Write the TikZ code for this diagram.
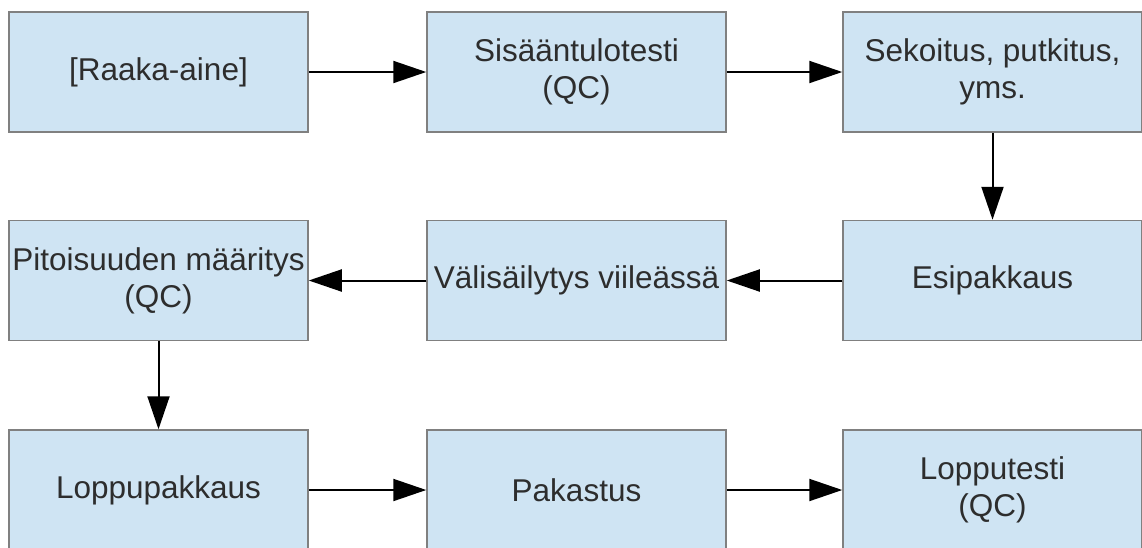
\documentclass[tikz,border=0pt]{standalone}
\usepackage{fontspec}
\setmainfont{Liberation Sans}
\usetikzlibrary{arrows.meta}
\definecolor{boxblue}{RGB}{207,228,243}
\definecolor{boxline}{RGB}{128,128,128}
\definecolor{txt}{RGB}{45,45,45}
\tikzset{
  stepbox/.style={rectangle, draw=boxline, line width=1.5pt, fill=boxblue,
    minimum width=299pt, minimum height=120pt, inner sep=0pt, align=center,
    text=txt, font=\fontsize{31.5pt}{37pt}\selectfont},
  flow/.style={line width=2pt, -{Triangle[length=33pt,width=22pt]}}
}
\begin{document}
\begin{tikzpicture}[x=1pt,y=-1pt]
\useasboundingbox (0,0) rectangle (1142,547);
\begin{scope}
\clip (0,0) rectangle (1142,547);
\node[stepbox] (a) at (158.5,72) {[Raaka-aine]};
\node[stepbox] (b) at (576.5,72) {Sisääntulotesti\\(QC)};
\node[stepbox] (c) at (992.5,72) {Sekoitus, putkitus,\\yms.};
\node[stepbox] (d) at (992.5,280.5) {Esipakkaus};
\node[stepbox] (e) at (576.5,280.5) {Välisäilytys viileässä};
\node[stepbox] (f) at (158.5,280.5) {Pitoisuuden määritys\\(QC)};
\node[stepbox] (g) at (158.5,490) {Loppupakkaus};
\node[stepbox] (h) at (576.5,490) {Pakastus};
\node[stepbox] (i) at (992.5,490) {Lopputesti\\(QC)};
\end{scope}
\draw[flow] (a) -- (b);
\draw[flow] (b) -- (c);
\draw[flow] (c) -- (d);
\draw[flow] (d) -- (e);
\draw[flow] (e) -- (f);
\draw[flow] (f) -- (g);
\draw[flow] (g) -- (h);
\draw[flow] (h) -- (i);
\end{tikzpicture}
\end{document}
